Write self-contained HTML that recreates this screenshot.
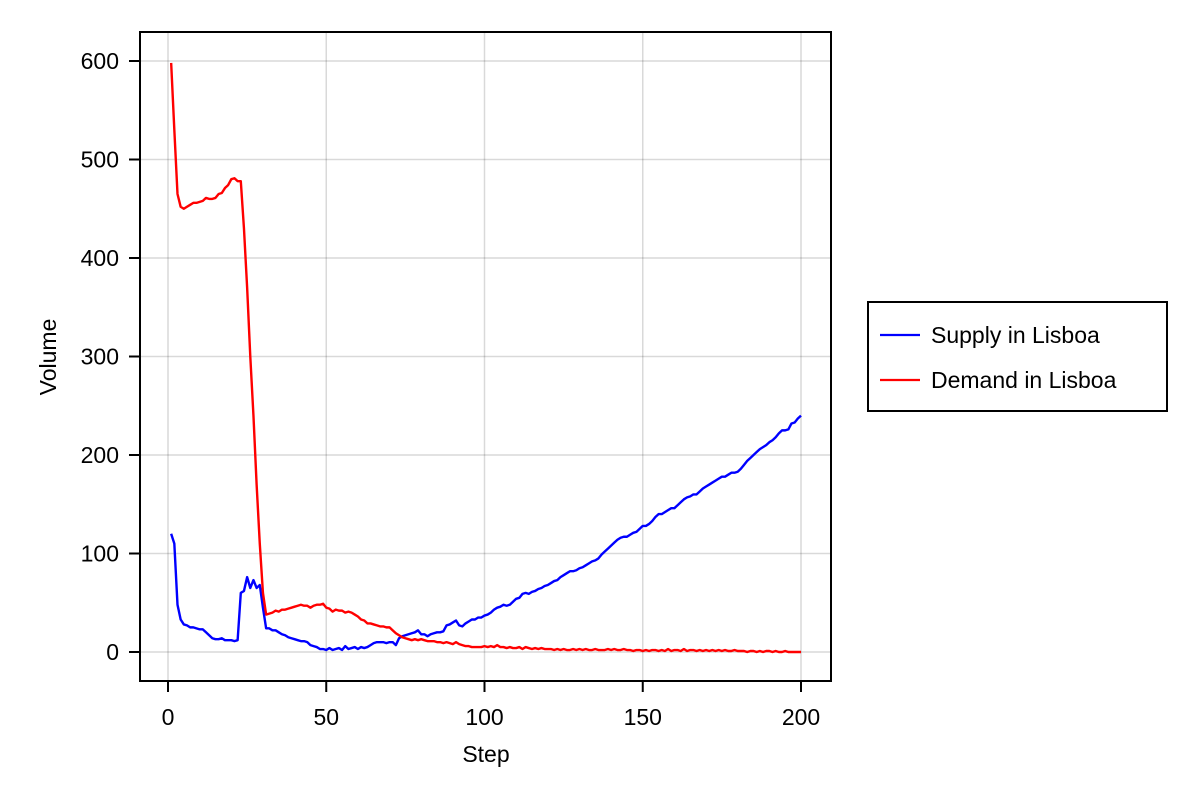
<!DOCTYPE html>
<html><head><meta charset="utf-8"><style>
html,body{margin:0;padding:0;background:#fff;}
svg text{font-family:"Liberation Sans",sans-serif;fill:#000;}
</style></head><body>
<svg id="chart" width="1200" height="800" viewBox="0 0 1200 800">
<rect x="0" y="0" width="1200" height="800" fill="#fff"/>
<g id="grid"></g>
<g id="lines"></g>
<rect x="140" y="32" width="691" height="649" fill="none" stroke="#000" stroke-width="2"/>
<g id="ticks"></g>
<text x="486" y="762" font-size="23" text-anchor="middle">Step</text>
<text transform="translate(56,357) rotate(-90)" font-size="23" text-anchor="middle">Volume</text>
<g>
<rect x="868" y="302" width="299" height="109" fill="#fff" stroke="#000" stroke-width="2"/>
<line x1="880" y1="335" x2="920" y2="335" stroke="#0000ff" stroke-width="2.3"/>
<text x="931" y="343" font-size="23">Supply in Lisboa</text>
<line x1="880" y1="380" x2="920" y2="380" stroke="#ff0000" stroke-width="2.3"/>
<text x="931" y="388" font-size="23">Demand in Lisboa</text>
</g>
</svg>
<script>
const xTicks=[0,50,100,150,200];
const yTicks=[0,100,200,300,400,500,600];
const supply=[120,110,48,33,28,27,25,25,24,23,23,20,17,14,13,13,14,12,12,12,11,12,60,62,76,65,73,65,68,45,
24,24,22,22,20,18,17,15,14,13,12,11,11,10,7,6,5,3,3,2,4,2,3,4,2,6,3,4,5,3,
5,4,5,7,9,10,10,10,9,10,10,7,14,16,17,18,19,20,22,18,18,16,18,19,20,20,21,27,28,30,
32,27,26,29,31,33,33,35,35,37,38,40,43,45,46,48,47,48,51,54,55,59,60,59,61,62,64,65,67,68,
70,72,73,76,78,80,82,82,83,85,86,88,90,92,93,95,99,102,105,108,111,114,116,117,117,119,121,122,125,128,
128,130,133,137,140,140,142,144,146,146,149,152,155,157,158,160,160,163,166,168,170,172,174,176,178,178,180,182,182,183,
186,190,194,197,200,203,206,208,210,213,215,218,222,225,225,226,232,233,237,240];
const demand=[598,530,465,452,450,452,454,456,456,457,458,461,460,460,461,465,466,471,474,480,481,478,478,430,370,300,240,170,110,60,
38,39,40,42,41,43,43,44,45,46,47,48,47,47,45,47,48,48,49,45,44,41,43,42,42,40,41,40,38,36,
33,32,29,29,28,27,26,26,25,25,22,19,17,15,14,13,12,13,12,13,12,11,11,11,10,10,9,10,9,8,
10,8,7,6,6,5,5,5,5,6,5,6,5,7,5,5,4,5,4,4,5,3,5,4,3,4,3,4,3,3,
3,2,3,2,3,2,2,3,2,3,2,3,2,2,3,2,2,2,3,2,3,2,2,3,2,2,1,2,2,1,
2,1,2,2,1,2,1,3,1,2,2,1,3,1,2,2,1,2,1,2,1,2,1,2,1,2,1,1,2,1,
1,1,0,1,1,0,1,0,1,1,0,1,0,0,1,0,0,0,0,0];
const NS='http://www.w3.org/2000/svg';
const xS=v=>168+v*(801-168)/200;
const yS=v=>652-v*(652-61)/600;
const grid=document.getElementById('grid'),ticks=document.getElementById('ticks'),lines=document.getElementById('lines');
xTicks.forEach(t=>{
 const l=document.createElementNS(NS,'line');
 l.setAttribute('x1',xS(t));l.setAttribute('x2',xS(t));l.setAttribute('y1',32);l.setAttribute('y2',681);
 l.setAttribute('stroke','#000');l.setAttribute('stroke-opacity','0.15');l.setAttribute('stroke-width','1.5');
 
 
 grid.appendChild(l);
 const m=document.createElementNS(NS,'line');
 m.setAttribute('x1',xS(t));m.setAttribute('x2',xS(t));m.setAttribute('y1',681);m.setAttribute('y2',692);
 m.setAttribute('stroke','#000');m.setAttribute('stroke-width','2');
 
 
 ticks.appendChild(m);
 const tx=document.createElementNS(NS,'text');
 tx.setAttribute('x',xS(t));tx.setAttribute('y',725);tx.setAttribute('font-size','23');tx.setAttribute('text-anchor','middle');
 tx.textContent=t;
 
 
 ticks.appendChild(tx);
});
yTicks.forEach(t=>{
 const l=document.createElementNS(NS,'line');
 l.setAttribute('x1',140);l.setAttribute('x2',831);l.setAttribute('y1',yS(t));l.setAttribute('y2',yS(t));
 l.setAttribute('stroke','#000');l.setAttribute('stroke-opacity','0.15');l.setAttribute('stroke-width','1.5');
 
 
 grid.appendChild(l);
 const m=document.createElementNS(NS,'line');
 m.setAttribute('x1',129);m.setAttribute('x2',140);m.setAttribute('y1',yS(t));m.setAttribute('y2',yS(t));
 m.setAttribute('stroke','#000');m.setAttribute('stroke-width','2');
 
 
 ticks.appendChild(m);
 const tx=document.createElementNS(NS,'text');
 tx.setAttribute('x',119);tx.setAttribute('y',yS(t)+8);tx.setAttribute('font-size','23');tx.setAttribute('text-anchor','end');
 tx.textContent=t;
 
 
 ticks.appendChild(tx);
});
function drawLine(arr,color,name){
 const p=document.createElementNS(NS,'polyline');
 p.setAttribute('points',arr.map((v,i)=>xS(i+1).toFixed(2)+','+yS(v).toFixed(2)).join(' '));
 p.setAttribute('fill','none');p.setAttribute('stroke',color);p.setAttribute('stroke-width','2.4');p.setAttribute('stroke-linejoin','round');
 
 
 lines.appendChild(p);
}
drawLine(supply,'#0000ff','supply-line');
drawLine(demand,'#ff0000','demand-line');
</script>
</body></html>
